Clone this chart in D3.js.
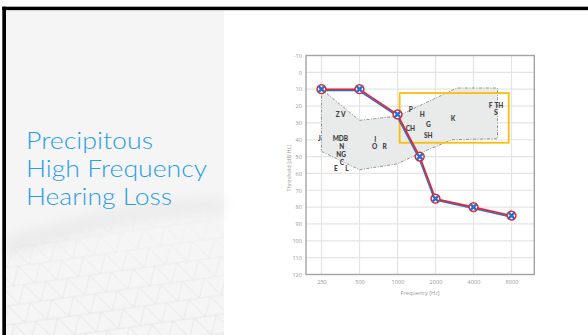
<!DOCTYPE html>
<html>
<head>
<meta charset="utf-8">
<script src="https://cdn.jsdelivr.net/npm/d3@7/dist/d3.min.js"></script>
<style>
html,body{margin:0;padding:0;background:#fff;}
svg{display:block;}
</style>
</head>
<body>
<svg id="chart" width="588" height="335"></svg>
<script>
// ---------- data ----------
const titleLines = ["Precipitous", "High Frequency", "Hearing Loss"];
const titleWidths = [127, 181, 146];

const freqTicks = [250, 500, 1000, 2000, 4000, 8000];
const freqTickLabels = ["250", "500", "1000", "2000", "4000", "8000"];
const dbTicks = [-10, 0, 10, 20, 30, 40, 50, 60, 70, 80, 90, 100, 110, 120];

const testFreqs = [250, 500, 1000, 1500, 2000, 4000, 8000];
const thresholds = [10, 10, 25, 50, 75, 80, 85];

const bananaFreqs = [250, 500, 1000, 2960, 6200, 6200, 2700, 1470, 1000, 500, 250];
const bananaDb    = [10, 28.5, 26, 9.3, 9.3, 39.4, 40, 48.3, 54.3, 57.8, 46.9];

const phonemes     = ["Z V", "J", "MDB", "N", "NG", "C", "E", "L", "I", "O", "R", "P", "H", "G", "CH", "SH", "K", "F", "TH", "S"];
const phonemeFreqs = [355, 241, 353, 362, 357, 362, 325, 397, 665, 660, 790, 1277, 1572, 1754, 1265, 1754, 2750, 5460, 6360, 6000];
const phonemeDb    = [25, 39.6, 39.6, 44.4, 49.1, 53.7, 57.4, 57.4, 40.2, 44.4, 44.4, 22.2, 25.3, 31.3, 33.7, 37.6, 27.7, 20, 20, 24.2];

const highlightFreqs = [1040, 7600];
const highlightDb = [12.3, 41.8];

// ---------- slide ----------
const svg = d3.select("#chart");
const defs = svg.append("defs");

// left panel
svg.append("rect").attr("x", 6).attr("y", 10).attr("width", 218).attr("height", 325).attr("fill", "#f5f5f5");

// decorative mesh
const pat = defs.append("pattern").attr("id", "mesh").attr("patternUnits", "userSpaceOnUse")
  .attr("width", 22).attr("height", 19).attr("patternTransform", "rotate(-8) skewX(10)");
pat.append("path").attr("d", "M0,0 L22,0 M0,0 L11,19 M22,0 L11,19 M0,19 L22,19")
  .attr("stroke", "#d8d8d8").attr("stroke-width", 0.6).attr("fill", "none");
const fadeGrad = defs.append("linearGradient").attr("id", "fade").attr("x1", 0).attr("y1", 0).attr("x2", 0).attr("y2", 1);
fadeGrad.append("stop").attr("offset", "0").attr("stop-color", "#fff").attr("stop-opacity", 0);
fadeGrad.append("stop").attr("offset", "0.5").attr("stop-color", "#fff").attr("stop-opacity", 0.55);
fadeGrad.append("stop").attr("offset", "1").attr("stop-color", "#fff").attr("stop-opacity", 0.8);
const mask = defs.append("mask").attr("id", "meshMask");
mask.append("rect").attr("x", 6).attr("y", 205).attr("width", 218).attr("height", 130).attr("fill", "url(#fade)");
const blur = defs.append("filter").attr("id", "blur").attr("x", "-20%").attr("y", "-80%").attr("width", "140%").attr("height", "260%");
blur.append("feGaussianBlur").attr("stdDeviation", 7);
svg.append("path").attr("d", "M6,238 C60,225 120,202 224,200 L224,212 C130,214 70,236 6,256 Z")
  .attr("fill", "#e4e4e4").attr("filter", "url(#blur)").attr("opacity", 0.7);
svg.append("path").attr("d", "M6,250 C60,232 130,212 224,208 L224,335 L6,335 Z")
  .attr("fill", "url(#mesh)").attr("mask", "url(#meshMask)");

// borders
svg.append("rect").attr("x", 2.3).attr("y", 6.7).attr("width", 586).attr("height", 3.4).attr("fill", "#000");
svg.append("rect").attr("x", 2.3).attr("y", 6.7).attr("width", 3.7).attr("height", 330).attr("fill", "#000");
svg.append("line").attr("x1", 6).attr("x2", 588).attr("y1", 10.6).attr("y2", 10.6).attr("stroke", "#cfcfcf").attr("stroke-width", 0.8);

// title
svg.append("g").selectAll("text").data(titleLines).join("text")
  .attr("x", 26).attr("y", (d, i) => 149 + i * 28)
  .attr("font-family", "Lato, sans-serif").attr("font-weight", 300).attr("font-size", 22.5)
  .attr("fill", "#2a9de8")
  .attr("textLength", (d, i) => titleWidths[i]).attr("lengthAdjust", "spacingAndGlyphs")
  .text(d => d);

// ---------- chart ----------
const frame = {left: 306, right: 534.3, top: 55.5, bottom: 274.5};
const x = d3.scaleLog().domain([250, 8000]).range([321.5, 511.5]);
const y = d3.scaleLinear().domain([-10, 120]).range([frame.top, frame.bottom]);

const g = svg.append("g");

// grid
g.append("g").selectAll("line").data(dbTicks.filter(d => d > -10 && d < 120)).join("line")
  .attr("x1", frame.left).attr("x2", frame.right)
  .attr("y1", d => y(d)).attr("y2", d => y(d))
  .attr("stroke", "#e4e4e4").attr("stroke-width", 1.2);
g.append("g").selectAll("line").data(freqTicks).join("line")
  .attr("x1", d => x(d)).attr("x2", d => x(d))
  .attr("y1", frame.top).attr("y2", frame.bottom)
  .attr("stroke", "#e4e4e4").attr("stroke-width", 1.2);

// speech banana
const bananaPts = bananaFreqs.map((f, i) => [x(f), y(bananaDb[i])]);
g.append("path").attr("d", d3.line()(bananaPts) + "Z")
  .attr("fill", "#e9eaea").attr("stroke", "#8a8a8a").attr("stroke-width", 0.9)
  .attr("stroke-dasharray", "3,1.5,1,1.5");

// phonemes
g.append("g").selectAll("text").data(phonemes).join("text")
  .attr("x", (d, i) => x(phonemeFreqs[i])).attr("y", (d, i) => y(phonemeDb[i]))
  .attr("dy", "0.36em").attr("text-anchor", "middle")
  .attr("font-family", "Lato, sans-serif").attr("font-weight", 900).attr("font-size", 6.5)
  .attr("fill", "#404040").text(d => d);

// highlight box
g.append("rect")
  .attr("x", x(highlightFreqs[0])).attr("y", y(highlightDb[0]))
  .attr("width", x(highlightFreqs[1]) - x(highlightFreqs[0]))
  .attr("height", y(highlightDb[1]) - y(highlightDb[0]))
  .attr("fill", "none").attr("stroke", "#fbbd0c").attr("stroke-width", 1.8);

// frame
g.append("rect").attr("x", frame.left).attr("y", frame.top)
  .attr("width", frame.right - frame.left).attr("height", frame.bottom - frame.top)
  .attr("fill", "none").attr("stroke", "#a3a3a3").attr("stroke-width", 1.4);

// axes labels
const yAxis = d3.axisLeft(y).tickValues(dbTicks).tickFormat(d => String(d)).tickSize(0).tickPadding(4);
const ya = g.append("g").attr("transform", `translate(${frame.left},0)`).call(yAxis);
const xAxis = d3.axisBottom(x).tickValues(freqTicks).tickFormat((d, i) => freqTickLabels[i]).tickSize(0).tickPadding(6);
const xa = g.append("g").attr("transform", `translate(0,${frame.bottom})`).call(xAxis);
[ya, xa].forEach(a => {
  a.select(".domain").remove();
  a.selectAll("text").attr("font-family", "'Open Sans', sans-serif").attr("font-size", 5.6).attr("fill", "#9a9a9a");
});

g.append("text").attr("x", (frame.left + frame.right) / 2).attr("y", 295)
  .attr("text-anchor", "middle").attr("font-family", "'Open Sans', sans-serif").attr("font-size", 5.6)
  .attr("fill", "#9a9a9a").text("Frequency [Hz]");
g.append("text").attr("transform", `translate(291,168) rotate(-90)`)
  .attr("text-anchor", "middle").attr("font-family", "'Open Sans', sans-serif").attr("font-size", 5.6)
  .attr("fill", "#9a9a9a").text("Threshold [dB HL]");

// audiogram
const pts = testFreqs.map((f, i) => [x(f), y(thresholds[i])]);
const line = d3.line();
g.append("path").attr("d", line(pts)).attr("transform", "translate(-0.8,1.2)")
  .attr("fill", "none").attr("stroke", "#2a6fcf").attr("stroke-width", 1.6);
g.append("path").attr("d", line(pts))
  .attr("fill", "none").attr("stroke", "#e8232b").attr("stroke-width", 1.6);

const mk = g.append("g").selectAll("g").data(pts).join("g")
  .attr("transform", d => `translate(${d[0]},${d[1]})`);
mk.append("circle").attr("r", 4.4).attr("fill", "#ffffff").attr("stroke", "#e8232b").attr("stroke-width", 1.5);
mk.append("path").attr("d", "M-3,-3L3,3M-3,3L3,-3").attr("stroke", "#2a6fcf").attr("stroke-width", 2.4);
mk.append("circle").attr("r", 1.2).attr("fill", "#2a6fcf");
</script>
</body>
</html>
